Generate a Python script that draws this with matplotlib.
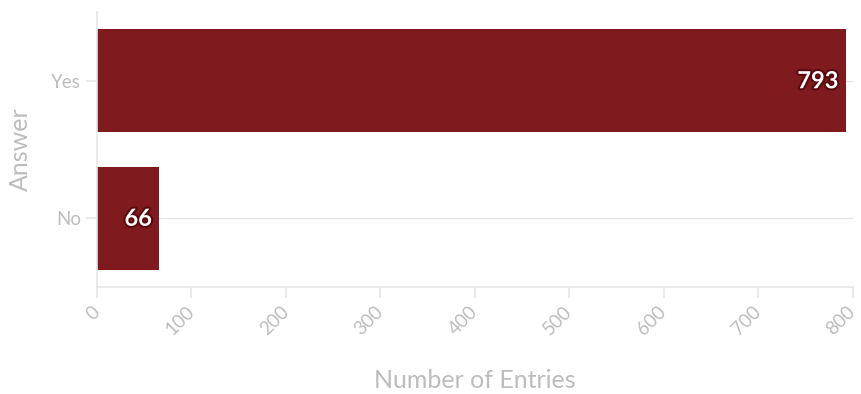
import matplotlib.pyplot as plt
import matplotlib.patheffects as pe
from matplotlib.transforms import ScaledTranslation

answers = ["No", "Yes"]
entries = [66, 793]
x_ticks = [0, 100, 200, 300, 400, 500, 600, 700, 800]

bar_color = "#7f1b1f"
text_grey = "#bdbdbd"
line_grey = "#e6e6e6"

plt.rcParams["font.family"] = ["Lato", "DejaVu Sans"]

fig = plt.figure(figsize=(8.62, 3.94), dpi=100)
ax = fig.add_axes([0.1125, 0.2716, 0.8765, 0.6979])

pos = list(range(len(answers)))
ax.barh(pos, entries, height=0.75, color=bar_color, zorder=2)
for y, v in zip(pos, entries):
    ax.text(v - 8, y, str(v), ha="right", va="center", color="white",
            fontsize=17, fontweight="bold", zorder=3,
            path_effects=[pe.withStroke(linewidth=3, foreground="#5a0a0e")])

ax.set_xlim(0, 800)
ax.set_ylim(-0.5, 1.5)
ax.set_yticks(pos)
ax.set_yticklabels(answers)
ax.set_xticks(x_ticks)
ax.set_xticklabels([str(t) for t in x_ticks], rotation=45, ha="right",
                   va="center", rotation_mode="anchor")

# shift rotated tick labels so their upper end sits just right of the tick
shift = ScaledTranslation(7 / 100, 0, fig.dpi_scale_trans)
for lbl in ax.get_xticklabels():
    lbl.set_transform(lbl.get_transform() + shift)

ax.grid(axis="y", color=line_grey, linewidth=1, zorder=0)
for side in ["top", "right"]:
    ax.spines[side].set_visible(False)
for side in ["left", "bottom"]:
    ax.spines[side].set_color(line_grey)
    ax.spines[side].set_linewidth(1.2)

ax.tick_params(axis="both", colors=line_grey, length=8, width=1.2,
               labelcolor=text_grey, labelsize=13.5)
ax.tick_params(axis="x", pad=8)

ax.set_xlabel("Number of Entries", color=text_grey, fontsize=18, labelpad=22)
ax.set_ylabel("Answer", color=text_grey, fontsize=18, labelpad=14)

fig.savefig("out.png", dpi=100)
